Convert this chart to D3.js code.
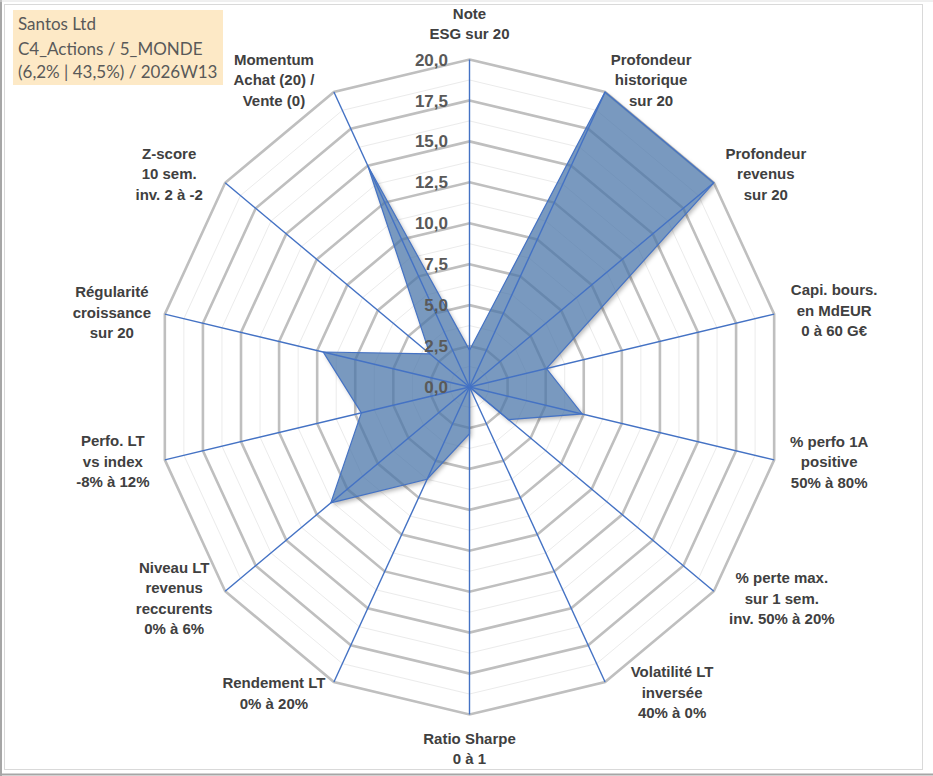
<!DOCTYPE html>
<html><head><meta charset="utf-8">
<script src="https://cdn.jsdelivr.net/npm/d3@7"></script>
<style>
html,body{margin:0;padding:0;background:#fff;}
svg{display:block;}
</style></head>
<body>
<svg id="chart" width="933" height="776"></svg>
<script>
// ---------- DATA ----------
const categories = [
  ["Note", "ESG sur 20"],
  ["Profondeur", "historique", "sur 20"],
  ["Profondeur", "revenus", "sur 20"],
  ["Capi. bours.", "en MdEUR", "0 à 60 G€"],
  ["% perfo 1A", "positive", "50% à 80%"],
  ["% perte max.", "sur 1 sem.", "inv. 50% à 20%"],
  ["Volatilité LT", "inversée", "40% à 0%"],
  ["Ratio Sharpe", "0 à 1"],
  ["Rendement LT", "0% à 20%"],
  ["Niveau LT", "revenus", "reccurents", "0% à 6%"],
  ["Perfo. LT", "vs index", "-8% à 12%"],
  ["Régularité", "croissance", "sur 20"],
  ["Z-score", "10 sem.", "inv. 2 à -2"],
  ["Momentum", "Achat (20) /", "Vente (0)"]
];
const values = [2.25, 20, 20, 5.05, 7.4, 3.2, 0, 2.85, 6.25, 11.35, 7.1, 9.6, 3.25, 15];
const tickValues = [0, 2.5, 5, 7.5, 10, 12.5, 15, 17.5, 20];
const tickLabels = ["0,0", "2,5", "5,0", "7,5", "10,0", "12,5", "15,0", "17,5", "20,0"];
const minorValues = [1.25, 3.75, 6.25, 8.75, 11.25, 13.75, 16.25, 18.75];
const titleLines = ["Santos Ltd", "C4_Actions / 5_MONDE", "(6,2% | 43,5%) / 2026W13"];

// ---------- LAYOUT ----------
const cx = 469.5, cy = 387, rx = 312.5, ry = 327.5;
// label block centre offsets from each axis end (layout only)
const labelOffsets = [[0,-36],[46,-12],[52,-9],[60,-4],[55,2],[68,7],[67,10.5],[0,34],[-60,11],[-51,7],[-52,1.5],[-53,-2],[-56,-9],[-60,-12]];

const n = categories.length;
const rScale = d3.scaleLinear().domain([0, 20]).range([0, 1]);
const aScale = d3.scaleLinear().domain([0, n]).range([0, 2 * Math.PI]);
function pt(i, v) {
  const a = aScale(i), k = rScale(v);
  return [cx + rx * k * Math.sin(a), cy - ry * k * Math.cos(a)];
}

const svg = d3.select("#chart");
const defs = svg.append("defs");
const seriesPath = d3.line().curve(d3.curveLinearClosed)(values.map((v, i) => pt(i, v)));
defs.append("filter").attr("id","blur").attr("x","-10%").attr("y","-10%").attr("width","130%").attr("height","130%")
  .append("feGaussianBlur").attr("stdDeviation",2);
const mask = defs.append("mask").attr("id","outside").attr("maskUnits","userSpaceOnUse")
  .attr("x",0).attr("y",0).attr("width",933).attr("height",776);
mask.append("rect").attr("width",933).attr("height",776).attr("fill","#fff");
mask.append("path").attr("d", seriesPath).attr("fill","#000");

// frame
svg.append("rect").attr("x",4.5).attr("y",4.5).attr("width",918).attr("height",765)
  .attr("fill","#fff").attr("stroke","#d9d9d9").attr("stroke-width",1);
svg.append("line").attr("x1",1).attr("x2",1).attr("y1",0).attr("y2",776).attr("stroke","#a6a6a6").attr("stroke-width",2);
svg.append("line").attr("x1",0).attr("x2",933).attr("y1",774.5).attr("y2",774.5).attr("stroke","#a6a6a6").attr("stroke-width",2);
svg.append("line").attr("x1",0).attr("x2",933).attr("y1",1).attr("y2",1).attr("stroke","#e0e0e0").attr("stroke-width",1);

const ring = v => d3.line().curve(d3.curveLinearClosed)(d3.range(n).map(i => pt(i, v)));

// minor grid
svg.append("g").selectAll("path").data(minorValues).join("path")
  .attr("d", ring).attr("fill","none").attr("stroke","#ebebeb").attr("stroke-width",1);
// major grid
svg.append("g").selectAll("path").data(tickValues.filter(v => v > 0)).join("path")
  .attr("d", ring).attr("fill","none").attr("stroke","#bfbfbf").attr("stroke-width",2.6)
  .attr("stroke-linejoin","miter");

// shadow of the series (outside the shape only)
svg.append("g").attr("mask","url(#outside)")
  .append("path").attr("d", seriesPath).attr("transform","translate(2,2.5)")
  .attr("fill","#000").attr("fill-opacity",0.28).attr("filter","url(#blur)");

// series polygon
svg.append("path")
  .attr("d", seriesPath)
  .attr("fill","#4a76a8").attr("fill-opacity",0.74)
  .attr("stroke","#4472c4").attr("stroke-width",1.2);

// spokes
svg.append("g").selectAll("line").data(d3.range(n)).join("line")
  .attr("x1", cx).attr("y1", cy)
  .attr("x2", i => pt(i, 20)[0]).attr("y2", i => pt(i, 20)[1])
  .attr("stroke","#4472c4").attr("stroke-width",1.4);

// tick labels
svg.append("g").selectAll("text").data(tickValues).join("text")
  .attr("x", cx - 21.5).attr("y", v => pt(0, v)[1]).attr("dy","0.36em")
  .attr("text-anchor","end")
  .attr("font-family","'Liberation Sans', Arial, sans-serif").attr("font-weight","bold")
  .attr("font-size",17).attr("fill","#595959")
  .text((v, i) => tickLabels[i]);

// axis labels
const lh = 20.5;
const lg = svg.append("g").attr("font-family","'Liberation Sans', Arial, sans-serif")
  .attr("font-weight","bold").attr("font-size",15).attr("fill","#404040").attr("text-anchor","middle");
categories.forEach((lines, i) => {
  const p = pt(i, 20);
  const bx = p[0] + labelOffsets[i][0], by = p[1] + labelOffsets[i][1];
  const t = lg.append("text");
  lines.forEach((s, j) => {
    t.append("tspan").attr("x", bx).attr("y", by + (j - (lines.length - 1) / 2) * lh).attr("dy","0.36em").text(s);
  });
});

// title box
svg.append("rect").attr("x",13).attr("y",10).attr("width",210).attr("height",75).attr("fill","#fde9c6");
svg.append("g").selectAll("text").data(titleLines).join("text")
  .attr("x",18).attr("y",(d,i) => [24, 49, 72][i]).attr("dy","0.36em")
  .attr("font-family","Lato, 'Open Sans', sans-serif").attr("font-size",17).attr("fill","#595959")
  .text(d => d);
</script>
</body></html>
